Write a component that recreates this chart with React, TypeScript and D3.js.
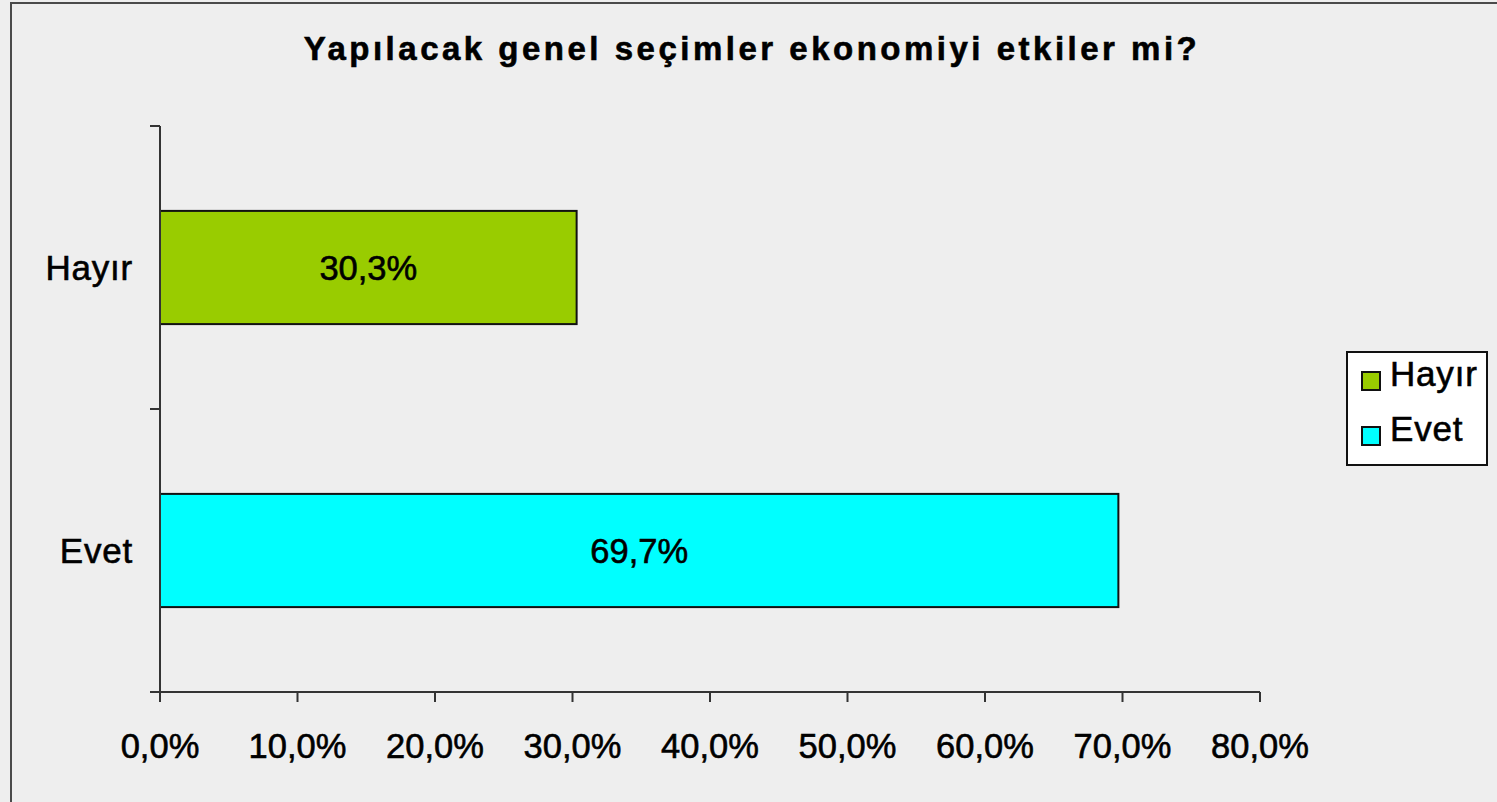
import React from "react";
import * as d3 from "d3";

const categories = ["Hayır", "Evet"];
const values = [30.3, 69.7];
const colors = ["#99CC00", "#00FFFF"];
const xTicks = [0, 10, 20, 30, 40, 50, 60, 70, 80];
const title = "Yapılacak genel seçimler ekonomiyi etkiler mi?";

const W = 1497;
const H = 802;
const FONT = "'Liberation Sans', Arial, sans-serif";

const fmt = (v: number) => v.toFixed(1).replace(".", ",") + "%";

export default function App() {
  const left = 160, right = 1260, top = 126, bottom = 692;
  const x = d3.scaleLinear().domain([0, 80]).range([left, right]);
  const y = d3.scaleBand().domain(categories).range([top, bottom]).paddingInner(0.6).paddingOuter(0.3);
  const yOuter = d3.scaleBand().domain(categories).range([top, bottom]);
  const axisColor = "#333";
  const heavy = { stroke: "#000", strokeWidth: 0.6 };

  return (
    <svg width={W} height={H} style={{ position: "absolute", left: 0, top: 0, background: "#eeeeee" }}>
      <rect x={0} y={0} width={W} height={H} fill="#eeeeee" />
      <rect x={11} y={3} width={W + 20} height={H + 20} fill="none" stroke="#4a4a4a" strokeWidth={2} />
      <text x={752} y={60} textAnchor="middle" fontFamily={FONT} fontWeight="bold" fontSize={33} letterSpacing={3.5} fill="#000" {...heavy}>
        {title}
      </text>

      {/* bars */}
      {categories.map((c, i) => (
        <g key={c}>
          <rect x={x(0)} y={y(c)!} width={x(values[i]) - x(0)} height={y.bandwidth()} fill={colors[i]} stroke="#111" strokeWidth={2} />
          <text x={(x(0) + x(values[i])) / 2} y={y(c)! + y.bandwidth() / 2 + 12} textAnchor="middle" fontFamily={FONT} fontSize={34.5} fill="#000" {...heavy}>
            {fmt(values[i])}
          </text>
          <text x={133} y={y(c)! + y.bandwidth() / 2 + 12} textAnchor="end" fontFamily={FONT} fontSize={35} letterSpacing={0.8} fill="#000" {...heavy}>
            {c}
          </text>
        </g>
      ))}

      {/* y axis */}
      <line x1={left} x2={left} y1={top} y2={bottom + 1} stroke={axisColor} strokeWidth={2} />
      {[...categories.map((c) => yOuter(c)!), bottom].map((t, i) => (
        <line key={i} x1={left - 10} x2={left} y1={t} y2={t} stroke={axisColor} strokeWidth={2} />
      ))}

      {/* x axis */}
      <line x1={left - 10} x2={right} y1={bottom} y2={bottom} stroke={axisColor} strokeWidth={2} />
      {xTicks.map((t) => (
        <g key={t}>
          <line x1={x(t)} x2={x(t)} y1={bottom} y2={bottom + 10} stroke={axisColor} strokeWidth={2} />
          <text x={x(t)} y={758} textAnchor="middle" fontFamily={FONT} fontSize={34.5} fill="#000" {...heavy}>
            {fmt(t)}
          </text>
        </g>
      ))}

      {/* legend */}
      <rect x={1347} y={352} width={140} height={113} fill="#ffffff" stroke="#111" strokeWidth={2} />
      {categories.map((c, i) => (
        <g key={c}>
          <rect x={1362} y={372 + i * 55} width={18} height={18} fill={colors[i]} stroke="#111" strokeWidth={2} />
          <text x={1390} y={386 + i * 55} fontFamily={FONT} fontSize={35} letterSpacing={0.8} fill="#000" {...heavy}>
            {c}
          </text>
        </g>
      ))}
    </svg>
  );
}
